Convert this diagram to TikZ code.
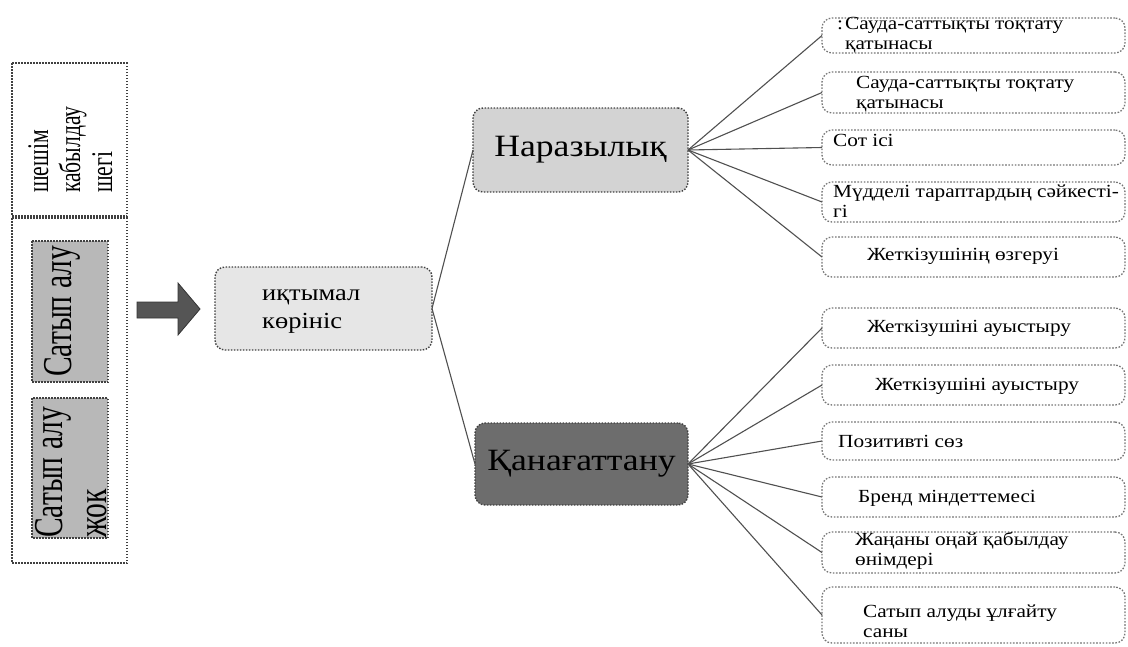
\documentclass[tikz,border=0pt]{standalone}
\usepackage{fontspec}
\setmainfont{Liberation Serif}
\newfontfamily\hfont{Liberation Serif}[FakeStretch=1.15]
\newfontfamily\vfont{Liberation Serif}[FakeStretch=0.72]
\definecolor{bordc}{HTML}{404040}
\definecolor{lbordc}{HTML}{767676}
\definecolor{iktfill}{HTML}{E6E6E6}
\definecolor{narfill}{HTML}{D3D3D3}
\definecolor{qanfill}{HTML}{6D6D6D}
\definecolor{satfill}{HTML}{B8B8B8}
\definecolor{arrfill}{HTML}{555555}
\definecolor{linec}{HTML}{505050}
\begin{document}
\begin{tikzpicture}[x=1pt,y=-1pt,
  dotted box/.style={draw=bordc, line width=1.4pt, dash pattern=on 1.5pt off 1.5pt},
  mainbox/.style={dotted box, rounded corners=10pt, inner sep=0pt, outer sep=0pt},
  rbox/.style={draw=lbordc, line width=1.3pt, dash pattern=on 1.6pt off 1.6pt,
     rounded corners=10pt, inner sep=0pt, outer sep=0pt, minimum width=303pt},
  rtxt/.style={inner sep=0pt, anchor=west, align=left,
     font=\hfont\fontsize{18.5}{20}\selectfont},
  vtxt/.style={inner sep=0pt, rotate=90, anchor=north west, align=left},
  conn/.style={draw=linec, line width=1.1pt}
]
\useasboundingbox (0,0) rectangle (1128,646);

% ---- left panel ----
\draw[dotted box] (12,63) rectangle (127,216);
\draw[dotted box] (12,218) rectangle (127,563);
\node[vtxt, font=\vfont\fontsize{30}{32}\selectfont] (thr) at (28,193)
  {шешім\\кабылдау\\шегі};
\draw[dotted box, fill=satfill] (32,241) rectangle (108,382);
\draw[dotted box, fill=satfill] (32,398) rectangle (108,538);
\node[vtxt, font=\vfont\fontsize{41}{44}\selectfont] (buy) at (44,377) {Сатып алу};
\node[vtxt, font=\vfont\fontsize{41}{44}\selectfont] (nobuy) at (35,538) {Сатып алу\\жок};

% ---- block arrow ----
\fill[arrfill, draw=black!80, line width=0.8pt]
  (137,302) -- (178,302) -- (178,283) -- (200,309) -- (178,335) -- (178,318) -- (137,318) -- cycle;

% ---- middle nodes ----
\node[mainbox, fill=iktfill, minimum width=217pt, minimum height=83pt] (ikt) at (323.5,308.5) {};
\node[inner sep=0pt, anchor=north west, align=left, font=\hfont\fontsize{23}{28}\selectfont]
  (ikttxt) at (262,290) {иқтымал\\көрініс};
\node[mainbox, fill=narfill, minimum width=215pt, minimum height=84pt,
  font=\hfont\fontsize{31}{34}\selectfont] (nar) at (580.5,150) {Наразылық};
\node[mainbox, fill=qanfill, minimum width=213pt, minimum height=82pt,
  font=\hfont\fontsize{31}{34}\selectfont] (qan) at (581.5,464) {Қанағаттану};

% ---- right boxes ----
\node[rbox, minimum height=35pt] (r1) at (973.5,35.5) {};
\node[rbox, minimum height=41pt] (r2) at (973.5,92.5) {};
\node[rbox, minimum height=35pt] (r3) at (973.5,147.5) {};
\node[rbox, minimum height=40pt] (r4) at (973.5,202) {};
\node[rbox, minimum height=40pt] (r5) at (973.5,257) {};
\node[rbox, minimum height=40pt] (r6) at (973.5,328) {};
\node[rbox, minimum height=40pt] (r7) at (973.5,385) {};
\node[rbox, minimum height=38pt] (r8) at (973.5,441) {};
\node[rbox, minimum height=40pt] (r9) at (973.5,497) {};
\node[rbox, minimum height=41pt] (r10) at (973.5,552.5) {};
\node[rbox, minimum height=56pt] (r11) at (973.5,615) {};

\node[rtxt] (t1) at (837,35.5) {\makebox[8pt][l]{:}Сауда-саттықты тоқтату\\\hspace*{8pt}қатынасы};
\node[rtxt] (t2) at (856,94) {Сауда-саттықты тоқтату\\қатынасы};
\node[rtxt] (t3) at (833,140) {Сот ісі};
\node[rtxt] (t4) at (833,201) {Мүдделі тараптардың сәйкесті-\\гі};
\node[rtxt] (t5) at (867,256) {Жеткізушінің өзгеруі};
\node[rtxt] (t6) at (867,328) {Жеткізушіні ауыстыру};
\node[rtxt] (t7) at (875,386) {Жеткізушіні ауыстыру};
\node[rtxt] (t8) at (838,441) {Позитивті сөз};
\node[rtxt] (t9) at (858,498) {Бренд міндеттемесі};
\node[rtxt] (t10) at (855,551) {Жаңаны оңай қабылдау\\өнімдері};
\node[rtxt] (t11) at (863,621) {Сатып алуды ұлғайту\\саны};

% ---- connectors ----
\draw[conn] (ikt.east) -- (nar.west);
\draw[conn] (ikt.east) -- (qan.west);
\foreach \r in {r1,r2,r3,r4,r5} \draw[conn] (nar.east) -- (\r.west);
\foreach \r in {r6,r7,r8,r9,r10,r11} \draw[conn] (qan.east) -- (\r.west);
\end{tikzpicture}
\end{document}
